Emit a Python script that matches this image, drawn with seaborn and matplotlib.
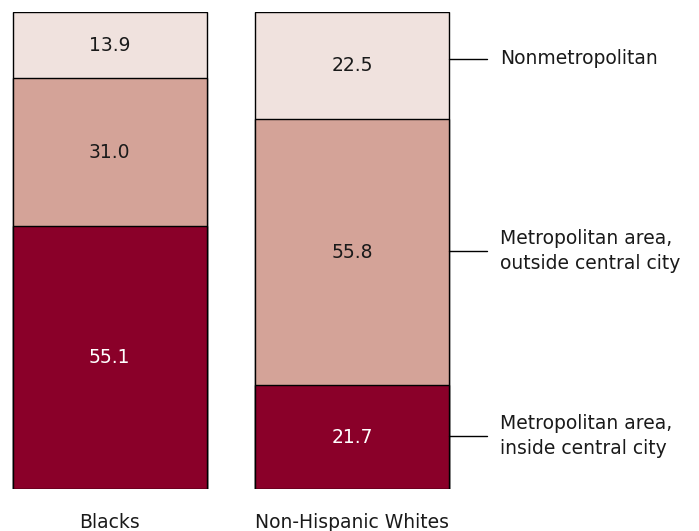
import matplotlib
matplotlib.use('Agg')
import matplotlib.pyplot as plt
import seaborn as sns
import pandas as pd

# data (percent)
groups = ['Blacks', 'Non-Hispanic Whites']
inside_city = [55.1, 21.7]
outside_city = [31.0, 55.8]
nonmetro = [13.9, 22.5]

series_names = ['Metropolitan area,\ninside central city',
                'Metropolitan area,\noutside central city',
                'Nonmetropolitan']
colors = ['#8A0029', '#D4A398', '#F0E2DE']

sns.set_style('white')
plt.rcParams['font.family'] = ['DejaVu Sans']

df = pd.DataFrame({'group': groups, 'inside': inside_city,
                   'outside': outside_city, 'nonmetro': nonmetro})
df['c1'] = df['inside']
df['c2'] = df['inside'] + df['outside']
df['c3'] = df['c2'] + df['nonmetro']

fig = plt.figure(figsize=(6.99, 5.31), dpi=100)
# axis spans whole width, y from bar bottom to top
ax = fig.add_axes([0, (531 - 489) / 531, 1, 477 / 531])

for col, c in zip(['c3', 'c2', 'c1'], colors[::-1]):
    sns.barplot(data=df, x='group', y=col, color=c, width=0.8,
                edgecolor='black', linewidth=1.0, ax=ax, saturation=1)

ax.set_xlim(-109.5 / 242.5, (699 - 109.5) / 242.5)
ax.set_ylim(0, 100)
ax.axis('off')

fs = 13.5

# value labels
for i in range(len(groups)):
    bottoms = [0, df['c1'][i], df['c2'][i]]
    vals = [inside_city[i], outside_city[i], nonmetro[i]]
    for j, (b, v) in enumerate(zip(bottoms, vals)):
        ax.text(i, b + v / 2, f'{v:.1f}', ha='center', va='center',
                fontsize=fs, color='white' if j == 0 else '#1a1a1a')
    ax.text(i, -7.0, groups[i], ha='center', va='center', fontsize=fs,
            color='#1a1a1a', clip_on=False)

# legend lines beside the right bar
x0 = 1 + 0.4
for j, name in enumerate(series_names):
    bottoms = [0, df['c1'][1], df['c2'][1]]
    vals = [inside_city[1], outside_city[1], nonmetro[1]]
    y = bottoms[j] + vals[j] / 2
    if j == 2:
        y += 1.4
    else:
        y += 0.3
    ax.plot([x0, x0 + 38 / 242.5], [y, y], color='black', lw=1, clip_on=False)
    ax.text(x0 + 51 / 242.5, y, name, ha='left', va='center', fontsize=fs,
            color='#1a1a1a', linespacing=1.4)

fig.savefig('out.png', dpi=100)
